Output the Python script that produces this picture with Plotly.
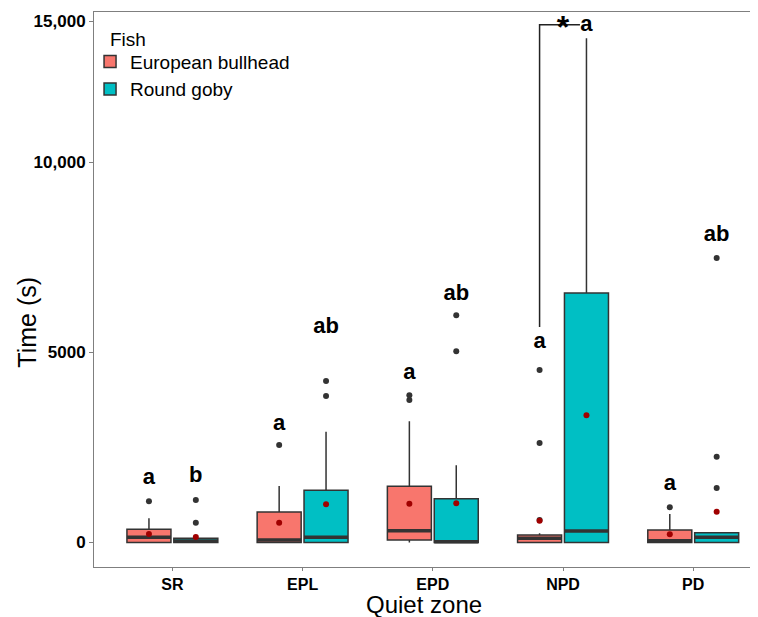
import plotly.graph_objects as go

categories = ["SR", "EPL", "EPD", "NPD", "PD"]
fish = ["European bullhead", "Round goby"]
colors = ["#F8766D", "#00BFC4"]

# Bullhead stats (s)
bh_q1 = [0, 0, 66, 0, 0]
bh_median = [137, 66, 311, 110, 47]
bh_q3 = [347, 803, 1479, 197, 329]
bh_lower = [0, 0, 0, 0, 0]
bh_upper = [637, 1487, 3189, 240, 750]
bh_mean = [224, 521, 1021, 574, 216]
bh_outliers = [[1084], [2566], [3750, 3874], [592, 2618, 4539], [926]]
bh_letters = ["a", "a", "a", "a", "a"]
bh_letter_y = [1671, 3110, 4434, 5258, 1539]

# Round goby stats (s)
rg_q1 = [0, 0, 0, 0, 0]
rg_median = [40, 137, 20, 303, 137]
rg_q3 = [110, 1373, 1153, 6566, 258]
rg_lower = [0, 0, 0, 0, 0]
rg_upper = [110, 2916, 2031, 13268, 258]
rg_mean = [145, 1005, 1031, 3347, 811]
rg_outliers = [[521, 1118], [3855, 4250], [5031, 5979], [], [1434, 2258, 7487]]
rg_letters = ["b", "ab", "ab", "a", "ab"]
rg_letter_y = [1732, 5645, 6513, 13600, 8066]

# significance bracket (NPD)
bracket_cat = "NPD"
bracket_low = 5670
bracket_top = 13626
bracket_label = "*"

y_tickvals = [0, 5000, 10000, 13720]
y_ticktext = ["0", "5000", "10,000", "15,000"]

offset = 0.18
box_w = 0.338
font_family = "Liberation Sans, Arial, sans-serif"

fig = go.Figure()

groups = [
    (fish[0], colors[0], -offset, bh_q1, bh_median, bh_q3, bh_lower, bh_upper, bh_mean, bh_outliers, bh_letters, bh_letter_y),
    (fish[1], colors[1], offset, rg_q1, rg_median, rg_q3, rg_lower, rg_upper, rg_mean, rg_outliers, rg_letters, rg_letter_y),
]

for name, col, off, q1, med, q3, lo, up, mean, outl, letters, ly in groups:
    xs = [i + off for i in range(len(categories))]
    fig.add_trace(go.Box(
        name=name, x=xs, q1=q1, median=med, q3=q3, lowerfence=lo, upperfence=up,
        width=box_w, fillcolor=col, line=dict(color="#333333", width=1.5),
        whiskerwidth=0, boxpoints=False, showlegend=True,
    ))
    # thick median lines
    mx, my = [], []
    for x, m in zip(xs, med):
        mx += [x - box_w / 2, x + box_w / 2, None]
        my += [m, m, None]
    fig.add_trace(go.Scatter(x=mx, y=my, mode="lines", line=dict(color="#333333", width=3.5),
                             showlegend=False, hoverinfo="skip"))
    # outliers
    ox, oy = [], []
    for x, vals in zip(xs, outl):
        for v in vals:
            ox.append(x)
            oy.append(v)
    fig.add_trace(go.Scatter(x=ox, y=oy, mode="markers", marker=dict(color="#333333", size=6),
                             showlegend=False))
    # means
    fig.add_trace(go.Scatter(x=xs, y=mean, mode="markers", marker=dict(color="#A00000", size=6),
                             showlegend=False))
    # letters
    fig.add_trace(go.Scatter(x=xs, y=ly, mode="text", text=letters, textposition="middle center",
                             textfont=dict(family=font_family, size=22, color="black", weight="bold"),
                             showlegend=False))

# bracket
bi = categories.index(bracket_cat)
bx0, bx1 = bi - offset, bi + offset
fig.add_trace(go.Scatter(x=[bx0, bx0, bx1 - 0.05], y=[bracket_low, bracket_top, bracket_top], mode="lines",
                         line=dict(color="#222222", width=1.5), showlegend=False))
fig.add_trace(go.Scatter(x=[bi], y=[bracket_top - 150], mode="text", text=[bracket_label],
                         textposition="middle center",
                         textfont=dict(family=font_family, size=32, color="black", weight="bold"),
                         showlegend=False))

axis_line = "#7f7f7f"
# page body has an 8px margin, so the figure is offset by (8, 8) in the window
fig.update_layout(
    width=750, height=609,
    margin=dict(l=86, r=5, t=4, b=50),
    plot_bgcolor="white", paper_bgcolor="white",
    font=dict(family=font_family, color="black"),
    legend=dict(x=-0.006, y=0.945, xanchor="left", yanchor="top", bgcolor="rgba(0,0,0,0)",
                font=dict(size=19), tracegroupgap=0, itemwidth=30),
    xaxis=dict(range=[-0.602, 4.459], tickvals=list(range(len(categories))), ticktext=categories,
               showgrid=False, zeroline=False, showline=True, mirror=True, linecolor=axis_line,
               linewidth=1, ticks="outside", ticklen=3, tickcolor=axis_line, automargin=False,
               tickfont=dict(size=16, color="black", weight="bold")),
    yaxis=dict(range=[-645, 13960], tickvals=y_tickvals, ticktext=y_ticktext,
               showgrid=False, zeroline=False, showline=True, mirror=True, linecolor=axis_line,
               linewidth=1, ticks="outside", ticklen=4, tickcolor=axis_line, automargin=False,
               tickfont=dict(size=17, color="black", weight="bold")),
    annotations=[
        dict(text="Fish", xref="paper", yref="paper", x=0.021, y=0.95, xanchor="left", yanchor="middle",
             showarrow=False, font=dict(size=19)),
        dict(text="Quiet zone", xref="paper", yref="paper", x=0.5, y=-0.068, xanchor="center",
             yanchor="middle", showarrow=False, font=dict(size=24)),
        dict(text="Time (s)", xref="paper", yref="paper", x=-0.101, y=0.441, xanchor="center",
             yanchor="middle", textangle=-90, showarrow=False, font=dict(size=25)),
    ],
)

fig.write_html("out.html")
